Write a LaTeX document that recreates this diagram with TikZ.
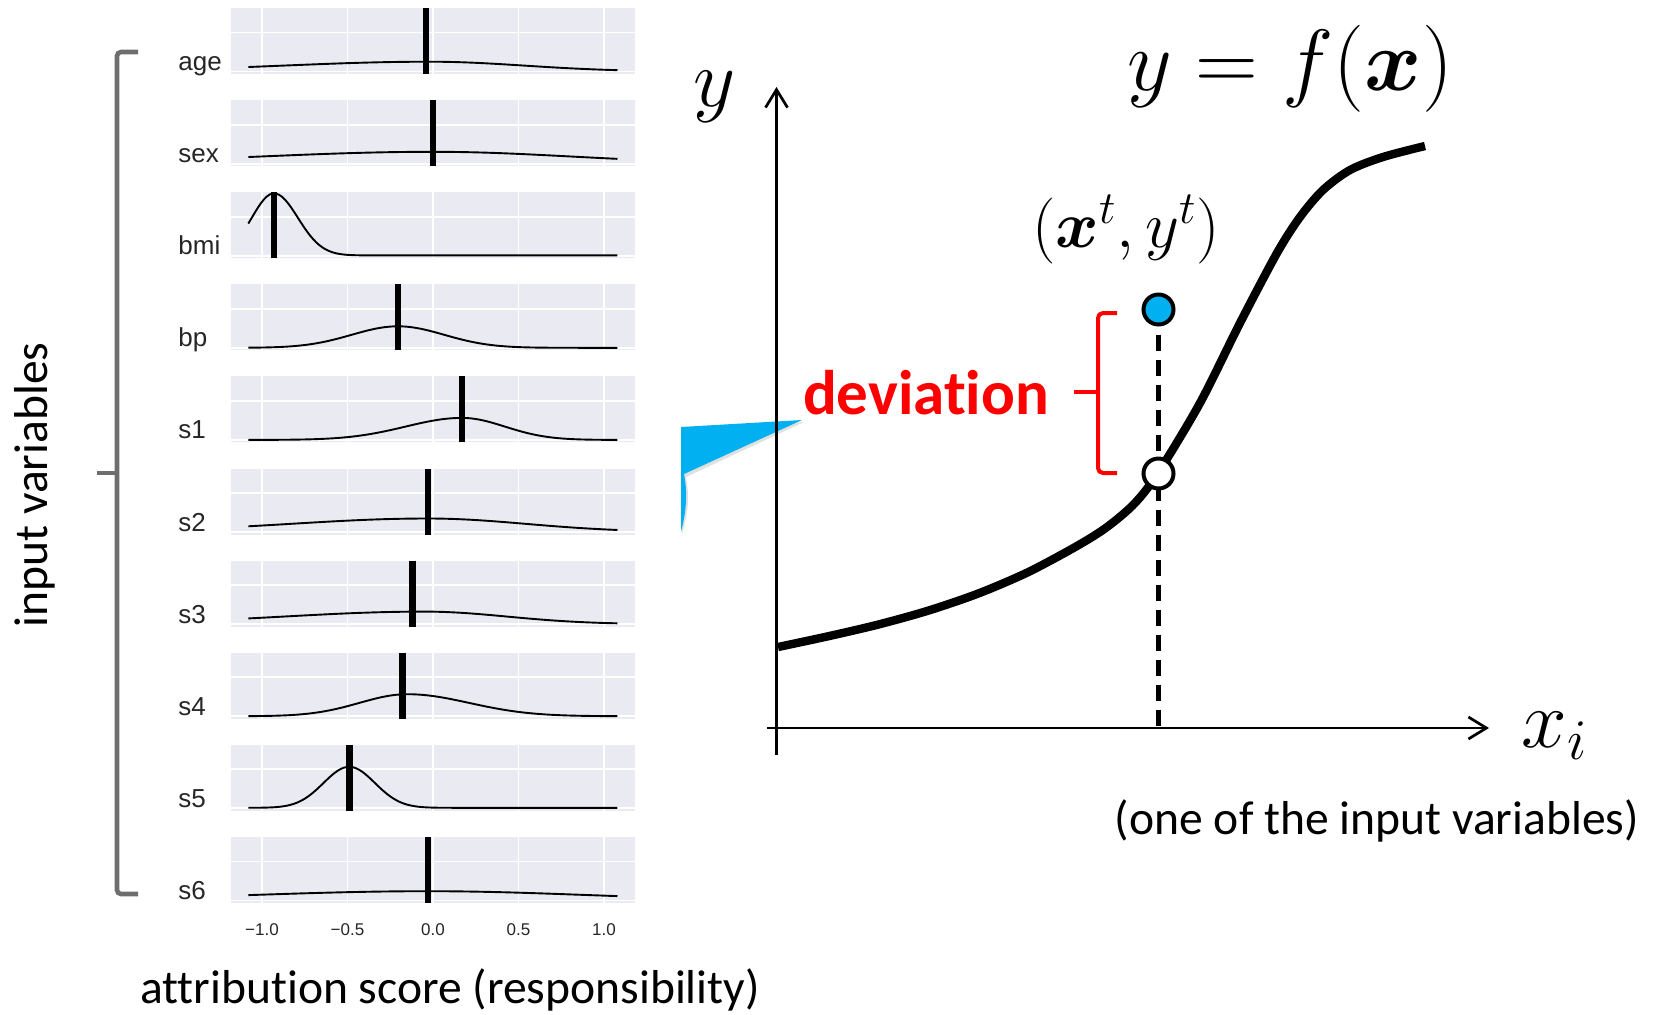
\RequirePackage{fix-cm}
\documentclass[tikz,border=0pt]{standalone}
\usepackage{amsmath}
\usepackage{fontspec}
\setmainfont{Carlito}[Ligatures=NoCommon]
\newfontfamily\arialf{Liberation Sans}
\usetikzlibrary{arrows.meta}
\definecolor{panelbg}{RGB}{234,234,242}
\definecolor{calloutblue}{RGB}{0,176,240}
\definecolor{bracegray}{RGB}{110,110,110}
\definecolor{lblgray}{RGB}{38,38,38}
\tikzset{
  panelgrid/.style={white, line width=0.9pt},
  kde/.style={black, line width=0.95pt, line join=round},
  markerbar/.style={black, line width=3.3pt},
  varlabel/.style={anchor=base west, inner sep=0pt, font=\arialf\fontsize{13}{13}\selectfont, text=lblgray},
  ticklabel/.style={anchor=base, inner sep=0pt, font=\arialf\fontsize{8.5}{8.5}\selectfont, text=lblgray},
  axisline/.style={line width=1.35pt, -{Straight Barb[length=9pt,width=11pt,line width=1.35pt]}},
  captiontext/.style={inner sep=0pt, font=\fontsize{23.8}{23.8}\selectfont},
  datadot/.style={circle, draw=black, line width=2pt, minimum size=15pt, inner sep=0pt},
  declare function={gs(\gv,\gm,\gl,\gr)=exp(max(-9,-((\gv-(\gm))^2)/(2*(ifthenelse(\gv<\gm,\gl,\gr))^2)));}
}
\begin{document}
\begin{tikzpicture}[x=0.5pt,y=-0.5pt]
\useasboundingbox (0,0) rectangle (1662,1014);

% ---- left: attribution panels ----
\foreach \ii/\lab/\mk/\amp/\mm/\sL/\sR/\cc in {
  0/age/-0.04/9.8/-0.02/0.85/0.55/0,
  1/sex/0.0/11.8/0.0/1.0/0.8/0,
  2/bmi/-0.93/62/-0.93/0.13/0.14/0.3,
  3/bp/-0.205/21.5/-0.205/0.27/0.27/0,
  4/s1/0.17/22/0.17/0.33/0.25/0,
  5/s2/-0.03/13.5/-0.03/0.8/0.57/0,
  6/s3/-0.12/12.5/-0.05/0.82/0.48/0,
  7/s4/-0.18/22/-0.15/0.28/0.36/0,
  8/s5/-0.49/41/-0.49/0.15/0.15/0.5,
  9/s6/-0.03/9.2/-0.03/1.0/0.9/0}{
  \pgfmathsetmacro\T{8+92.1*\ii}
  \fill[panelbg] (231,\T) rectangle (635,{\T+66});
  \foreach \g in {-1,-0.5,0,0.5,1}
    \draw[panelgrid] ({433+171*\g},\T) -- ({433+171*\g},{\T+66});
  \draw[panelgrid] (231,{\T+24.5}) -- (635,{\T+24.5});
  \draw[panelgrid] (231,{\T+63.5}) -- (635,{\T+63.5});
  \draw[kde] plot[domain=-1.08:1.08, samples=121] ({433+171*\x},{\T+63.5-\cc-\amp*gs(\x,\mm,\sL,\sR)});
  \draw[markerbar] ({433+171*\mk},\T) -- ({433+171*\mk},{\T+66});
  \node[varlabel] (lab\ii) at (178,{\T+62.5}) {\lab};
}
\foreach \g/\t [count=\k] in {-1/{−1.0},-0.5/{−0.5},0/{0.0},0.5/{0.5},1/{1.0}}
  \node[ticklabel] (tick\k) at ({433+171*\g},935) {\t};

% gray brace
\draw[bracegray, line width=2.3pt, rounded corners=2pt] (138,52) -- (117,52) -- (117,894) -- (138,894);
\draw[bracegray, line width=2.3pt] (117,473) -- (97,473);

\node[captiontext, rotate=90] (inputvars) at (35,485) {input variables};
\node[captiontext, anchor=base] (attr) at (450,1003) {attribution score (responsibility)};

% callout pointer
\fill[black!12] (682,429) -- (804,422) -- (686,477) .. controls (690,498) and (688,513) .. (682,534) -- cycle;
\fill[calloutblue] (681,427) -- (802,420) -- (684,474) .. controls (688,495) and (686,512) .. (681,532) -- cycle;

% ---- right: function plot ----
\coordinate (yb) at (776.5,755);
\coordinate (yt) at (776.5,87);
\coordinate (xl) at (767,728);
\coordinate (xr) at (1489,728);
\draw[axisline] (yb) -- (yt);
\draw[axisline] (xl) -- (xr);

\draw[line width=4.2pt] plot[smooth, tension=0.5] coordinates {(778,647) (828,636.3) (878,624.6) (928,610.7) (978,593.6) (1028,572.2) (1078,545.4) (1108,526.3) (1135,503) (1158,473) (1200,403) (1240,323) (1277,253) (1300,217) (1323,190) (1350,170) (1383,157) (1425,146)};

\coordinate (dtop) at (1158.5,309.5);
\coordinate (dbot) at (1158.5,733);
\draw[line width=2.2pt, dash pattern=on 8pt off 4.5pt] (dtop) -- (dbot);
\node[datadot, fill=calloutblue] (obs) at (dtop) {};
\node[datadot, fill=white] (pred) at (1158.5,473.5) {};

% red brace
\draw[red, line width=2pt, rounded corners=2.5pt] (1117,313) -- (1098,313) -- (1098,473) -- (1117,473);
\draw[red, line width=2pt] (1098,392) -- (1074,392);

\node[anchor=base, inner sep=0pt, text=red, font=\bfseries\fontsize{31.5}{31.5}\selectfont] (dev) at (926,414) {deviation};
\node[anchor=base, inner sep=0pt, font=\fontsize{41}{41}\selectfont] (ylab) at (715,106) {$y$};
\node[anchor=base, inner sep=0pt, font=\fontsize{43.5}{43.5}\selectfont] (feq) at (1290,90) {$y = f(\boldsymbol{x})$};
\node[anchor=base, inner sep=0pt, font=\fontsize{33}{33}\selectfont] (ptlab) at (1126,247) {$(\boldsymbol{x}^t, y^t)$};
\node[anchor=base west, inner sep=0pt, font=\fontsize{41}{41}\selectfont] (xi) at (1521,747) {$x_i$};
\node[captiontext, anchor=base] (oneof) at (1377,834) {(one of the input variables)};
\end{tikzpicture}
\end{document}
